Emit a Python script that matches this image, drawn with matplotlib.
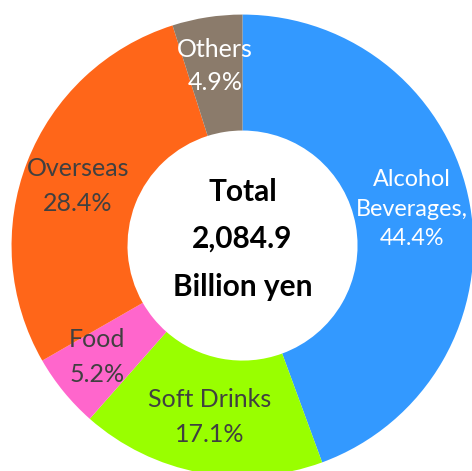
import matplotlib.pyplot as plt

# Revenue share by segment
segments = ['Alcohol\nBeverages,', 'Soft Drinks', 'Food', 'Overseas', 'Others']
shares = [44.4, 17.1, 5.2, 28.4, 4.9]
colors = ['#3399ff', '#99ff00', '#ff66cc', '#ff6619', '#8b7b6b']
text_colors = ['white', '#404040', '#404040', '#404040', 'white']
total = '2,084.9'

# label anchor points (radius units from the centre)
label_pos = [(0.733, 0.158), (-0.141, -0.742), (-0.630, -0.483),
             (-0.712, 0.257), (-0.119, 0.777)]
spacing = [1.5, 1.6, 1.6, 1.65, 1.5]
sizes = [16.8, 18, 18, 18, 18]

plt.rcParams['font.family'] = ['Lato', 'DejaVu Sans']

fig = plt.figure(figsize=(4.72, 4.71), dpi=100)
ax = fig.add_axes([0, 0, 1, 1])
ax.pie(shares, colors=colors, startangle=90, counterclock=False,
       radius=1.0, wedgeprops=dict(width=0.502, linewidth=0))

for name, val, tc, (x, y), ls, fs in zip(segments, shares, text_colors,
                                          label_pos, spacing, sizes):
    ax.text(x, y, f'{name}\n{val:.1f}%', ha='center', va='center',
            fontsize=fs, color=tc, linespacing=ls)

ax.text(0.0, 0.028, f'Total\n{total}\nBillion yen', ha='center', va='center',
        fontsize=21.5, fontweight='bold', color='black', linespacing=1.85)

ax.set_xlim(-1.050, 0.9935)
ax.set_ylim(-0.976, 1.063)
ax.set_aspect('equal')
ax.axis('off')

fig.savefig('out.png', dpi=100)
